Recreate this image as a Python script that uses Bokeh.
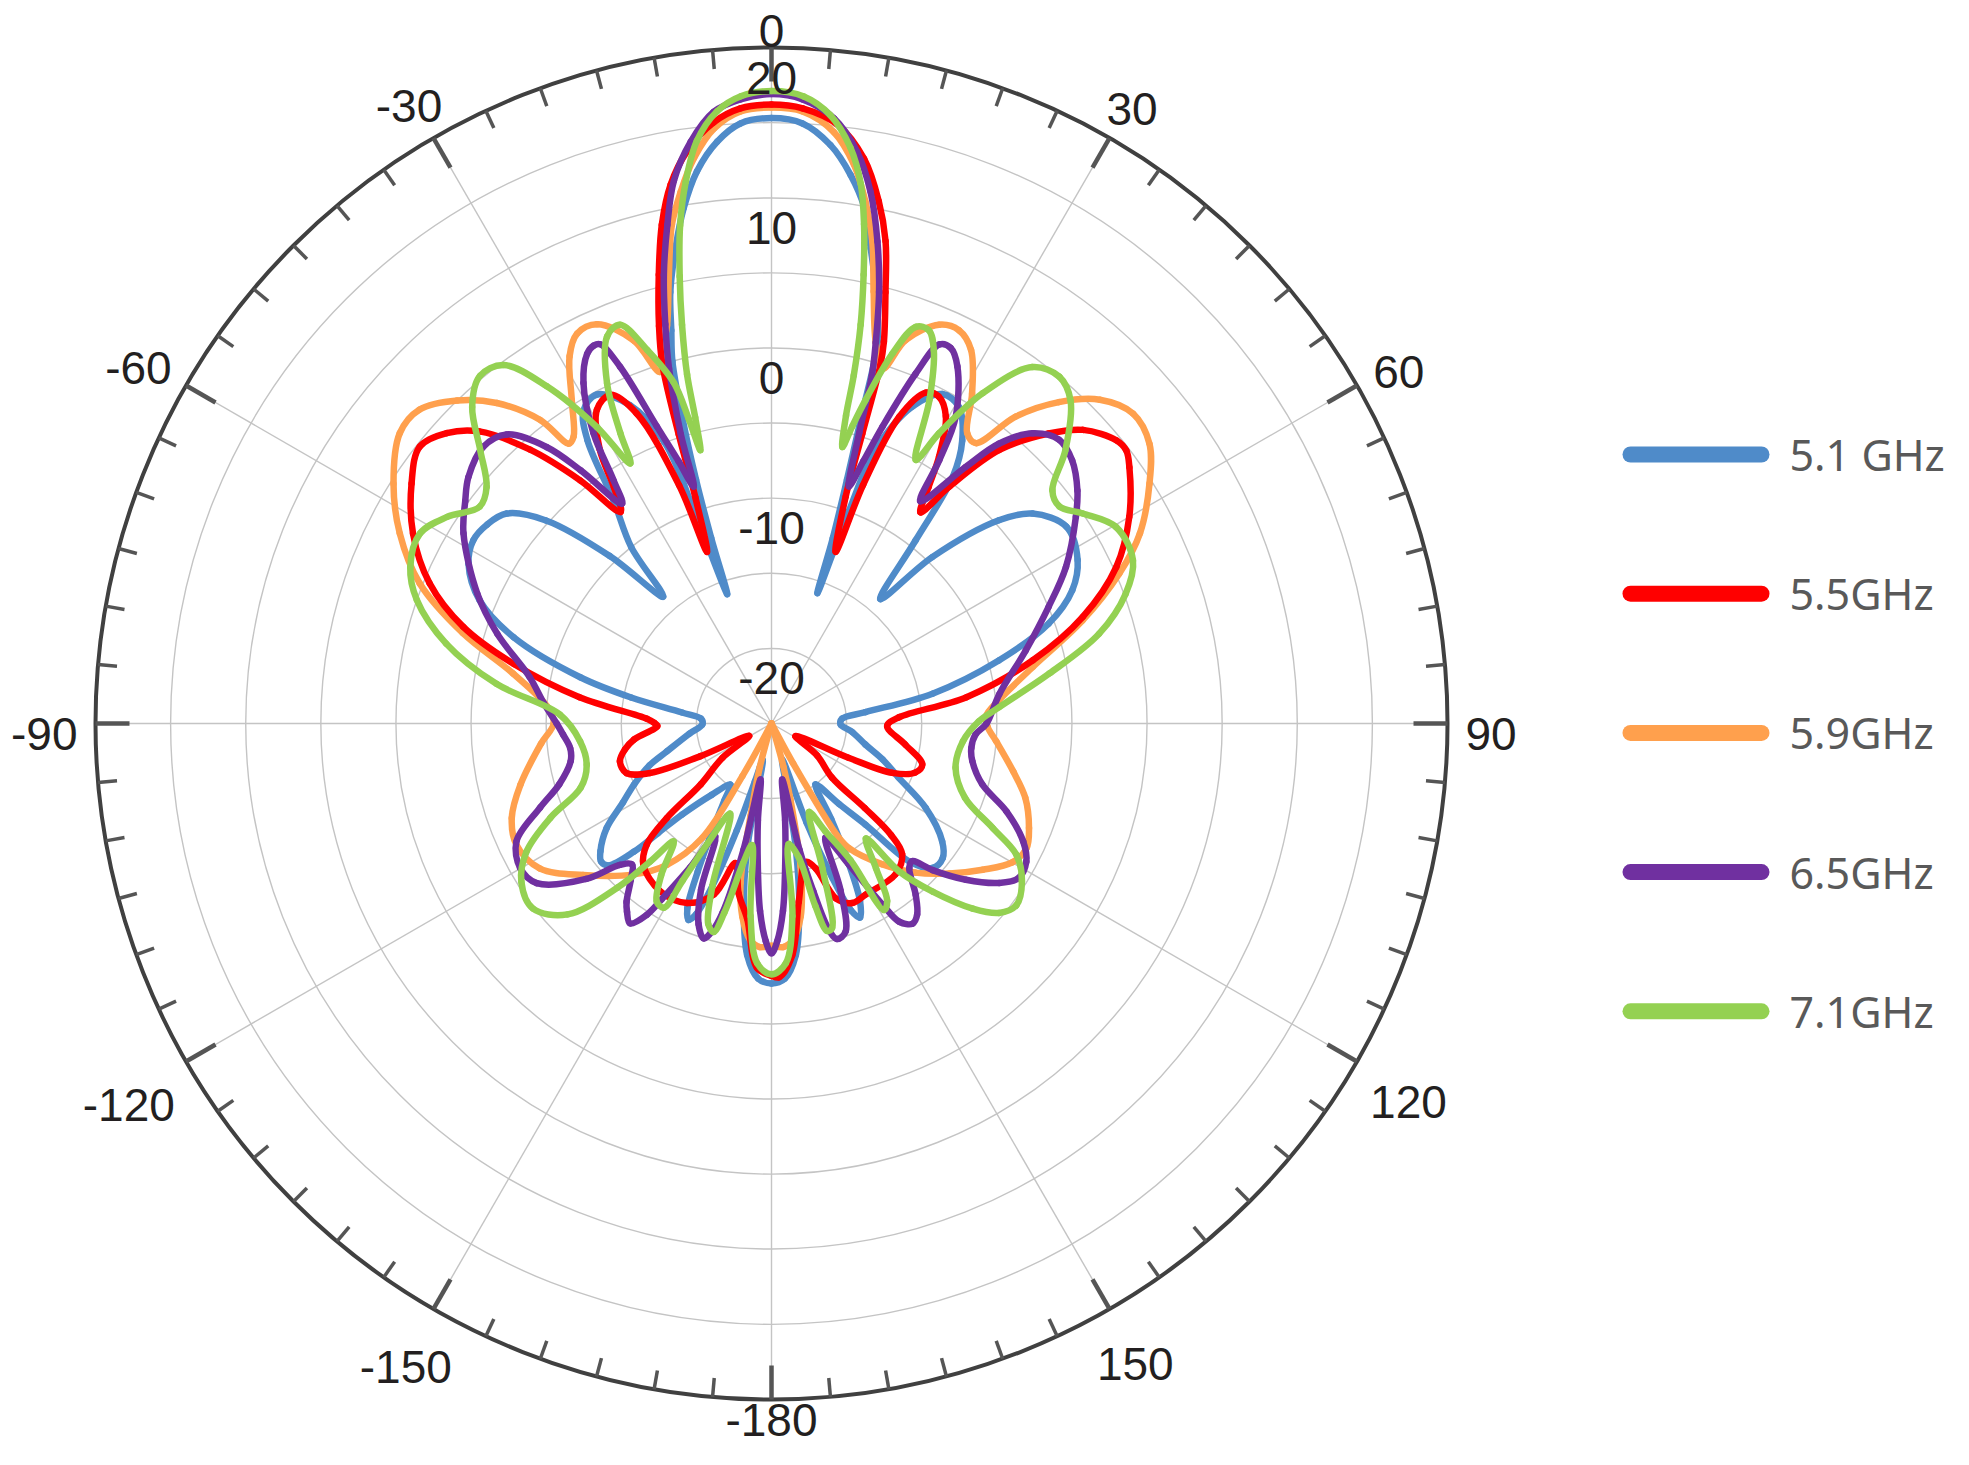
import numpy as np
from bokeh.plotting import figure
from bokeh.models import Range1d, ColumnDataSource
from bokeh.embed import file_html
from bokeh.resources import INLINE
from bokeh.core.properties import value

# ---------------- data (angle in degrees, gain in dB) ----------------
series_labels = ["5.1 GHz", "5.5GHz", "5.9GHz", "6.5GHz", "7.1GHz"]

ang_51 = [-180, -177, -174, -171.5, -169, -166.5, -164, -162, -160, -158.5,
          -157.1, -155.5, -153.5, -151, -148.5, -146.1, -140, -135.5, -134, -133,
          -131, -129, -126.7, -122.4, -118, -113.9, -109, -104.9, -97, -90.8,
          -86.2, -83, -79.5, -76.4, -71.5, -67.1, -62.2, -58.4, -55, -51.6,
          -48, -44, -40.5, -38.5, -35.3, -33, -31, -28, -24, -20.8,
          -20.0, -18.9, -18.0, -17.2, -16.3, -15.3, -14.3, -13.2, -11.4, -9.67,
          -7.68, -5.34, -2.96, 0, 2.96, 5.83, 8.2, 10.2, 11.8, 13.6,
          15.5, 16.3, 17.2, 18.3, 19.4, 20.0, 20.8, 24, 27.4, 30.6,
          34, 36.3, 38.2, 41.2, 44, 48.2, 51.2, 56.3, 61.9, 66.1,
          70.2, 74.5, 79.5, 83.1, 86.2, 90.8, 96, 102.6, 108, 113.1,
          118.7, 124.6, 128.2, 131.9, 135, 137.1, 140, 144.2, 148, 151,
          153.5, 155.5, 157, 158.5, 160.5, 163.5, 166.5, 169, 171.5, 174,
          177, 180]
db_51 = [-7.7, -8.0, -9.5, -12.5, -16.5, -22.5, -21, -17.5, -13.5, -11.4,
         -10.8, -11.5, -14, -17, -19, -20.1, -18.8, -16.5, -14.5, -12.5,
         -10.6, -10.4, -10.8, -12, -13.8, -15, -16.4, -17.8, -19.5, -20.4,
         -20.3, -19, -15.5, -11.9, -6.9, -3.9, -2.2, -1.7, -1.9, -2.5,
         -4.8, -9.5, -13.9, -10, -6.8, -2.5, -0.7, -0.2, -1.8, -5,
         -10, -15.9, -12, -8, -4, 0.0, 2.0, 4.5, 7.3, 9.8,
         12.1, 13.9, 15.0, 15.3, 15.0, 13.7, 11.9, 9.9, 7.3, 4.6,
         1.4, -3.5, -8, -12, -15.8, -10, -5.5, -1.9, -0.3, -0.5,
         -2.3, -4.6, -9.5, -14, -9.6, -4.7, -2.7, -1.4, -1.9, -3.1,
         -5.4, -9.3, -14.1, -18.7, -20.3, -20.4, -19.6, -18.6, -17.2, -15.8,
         -13.3, -11.2, -10.5, -10.6, -12, -15.8, -18, -20, -17.5, -14.5,
         -11.8, -10.8, -11.5, -14, -18, -22.5, -21, -16.5, -12.5, -9.5,
         -8.0, -7.7]

ang_55 = [-180, -176.6, -172.9, -169, -165.5, -161.4, -154.8, -146.5, -137.8, -134.2,
          -132.1, -130.7, -125, -119.2, -114.7, -112.2, -108.9, -104, -100, -96.6,
          -91.3, -89.7, -87.8, -82.2, -77, -72.6, -67.7, -62.1, -56.3, -51.8,
          -48.2, -45, -41.4, -38.2, -35.5, -33.7, -32.1, -29.1, -26.1, -23.5,
          -21.2, -20.6, -18.6, -17.8, -16.9, -15.8, -14.1, -12.4, -10.6, -8.4,
          -5.5, -2.9, 0, 2.9, 6.3, 9.3, 11.6, 13.3, 14.8, 16.4,
          16.9, 17.4, 18.1, 20.5, 21.0, 22.6, 25, 27.1, 29.6, 32.1,
          33.6, 35.2, 36.9, 39.8, 43.7, 46.7, 50.6, 52.4, 54.4, 60,
          65.6, 71.1, 76.4, 82.3, 87.2, 91.3, 98.9, 105.2, 108.9, 112.2,
          114, 117.9, 125, 131.8, 132.2, 133, 135, 140.6, 151.2, 155.8,
          159.8, 163, 166.1, 171.3, 174.9, 178.3, 180]
db_55 = [-8.2, -8.7, -11.9, -13.5, -15.4, -13.0, -11.8, -11.6, -12.3, -13.4,
         -15.6, -18.8, -21, -23.3, -19.8, -16.3, -14.8, -14.6, -15.1, -15.8,
         -17.4, -17.2, -16.7, -12.1, -7.4, -3.5, -0.4, 2.0, 3.8, 4.8,
         4.0, 2.5, -0.7, -4.4, -7.7, -6.1, -3.5, -1.1, -0.64, -2.5,
         -8, -12.8, -9.1, -4.8, 0.0, 2.5, 5.8, 9.0, 11.5, 13.5,
         15.2, 16.0, 16.2, 16.0, 15.1, 13.1, 10.5, 8.0, 4.7, 1.5,
         -0.1, -4.8, -9.1, -12.8, -8, -2.9, -0.7, -0.55, -1.5, -4.0,
         -6.1, -7.8, -5.3, -1.3, 1.7, 3.5, 4.7, 4.8, 4.3, 2.5,
         0.2, -3.1, -7.1, -11.9, -16.5, -17.3, -16.0, -14.6, -14.9, -16.3,
         -19.4, -23.2, -21.3, -19.6, -16.6, -14.1, -12.7, -12.0, -12.0, -11.9,
         -12.6, -14.9, -15.5, -13.0, -9.5, -8.1, -8.2]

ang_59 = [-180, -177, -174.4, -171.4, -169, -167.2, -165, -162, -153, -151,
          -148.8, -143.5, -137.6, -128.8, -122, -115.4, -110, -103.7, -95, -90,
          -86, -79.1, -73.7, -68.3, -62.9, -57.6, -52, -48.3, -44.2, -40.6,
          -37.3, -35.9, -34.6, -31.7, -28.8, -26.5, -23.6, -19.8, -17.6, -16.2,
          -14.7, -12.9, -11.3, -9.7, -7.8, -5.5, -2.9, 0, 2.9, 6.0,
          8.4, 10.2, 11.8, 13.3, 15.3, 17.4, 19.3, 22.8, 25.5, 28.1,
          31.3, 34, 36.1, 38.5, 41.8, 45.4, 49.4, 53.5, 57.6, 62.7,
          66.7, 71.7, 77.8, 84.2, 88, 91, 94.5, 101.2, 106.3, 112.1,
          116.1, 120, 124.7, 130.1, 136, 141.9, 148.1, 149.5, 151.5, 153,
          162, 164.5, 166, 168.5, 171.4, 174.4, 177, 180]
db_59 = [-10.2, -10.1, -10.5, -12, -14.2, -18.7, -22, -26, -26, -21,
         -16.1, -13.3, -11.4, -8.9, -6.8, -6.2, -6.6, -7.8, -9.6, -10.5,
         -10.1, -7.5, -3.6, 0.2, 2.8, 4.8, 6.4, 6.4, 5.0, 3.1,
         0.4, -2.0, -1.8, 0.3, 2.9, 4.0, 4.0, 2.1, -0.45, 1.0,
         2.4, 5.6, 8.85, 10.9, 13.0, 14.8, 15.8, 16.0, 15.8, 14.6,
         12.6, 10.3, 7.8, 4.55, 1.3, -0.25, 2.05, 3.8, 4.0, 3.2,
         0.7, -1.7, -1.9, 1.1, 3.7, 5.7, 6.7, 6.3, 4.8, 2.6,
         0.2, -3.2, -7.2, -9.8, -10.7, -10.6, -10.0, -8.6, -7.4, -6.5,
         -6.1, -6.5, -7.9, -9.5, -11.2, -13.1, -15.2, -16.2, -22, -26,
         -26, -22, -19.8, -15.3, -12, -10.5, -10.1, -10.2]

ang_65 = [-180, -178.5, -176.5, -174.5, -172, -168.9, -167.5, -165.5, -164, -162.5,
          -160, -157, -153.5, -150.5, -148, -146.9, -144.7, -142.5, -140.9, -138,
          -135.3, -133, -130, -124.2, -119.9, -114.8, -110, -106, -100.6, -97,
          -93, -90, -85, -79.1, -71.9, -66.2, -58.3, -54, -50.9, -46.2,
          -42.5, -39.1, -37, -34.2, -33, -31.5, -28.9, -26.5, -25.2, -24.3,
          -23, -21.1, -19.5, -18.2, -17.4, -16.1, -14.9, -13.5, -11.8, -10.2,
          -7.9, -5.4, -2.85, 0, 2.85, 5.9, 8.5, 10.55, 12.4, 14.0,
          15.3, 16.1, 16.8, 18.1, 19.3, 20.5, 22.4, 23.9, 25.5, 27.5,
          31, 32.5, 33.8, 37.1, 39.1, 42, 45.4, 48.8, 52.7, 55.8,
          62, 67.2, 74, 82.6, 90.1, 93.1, 97, 100.6, 106.1, 110.5,
          115.1, 118.5, 122, 125, 128.8, 132.3, 134.4, 136.4, 139.9, 142.7,
          144.8, 147.2, 148.5, 151.3, 154.7, 157.5, 160.4, 163.1, 164.5, 166,
          167.5, 169.2, 172, 174.5, 176.5, 178.5, 180]
db_65 = [-9.7, -10.5, -12.5, -15.5, -18.5, -21.2, -16.4, -12, -10.6, -10.0,
         -10.8, -13, -16.6, -14, -11.2, -9.8, -8.7, -9.2, -9.7, -11.0,
         -11.8, -11.2, -8.9, -6.1, -5.7, -6.3, -8.6, -10.3, -11.4, -11.5,
         -11.1, -10.7, -9.8, -8.6, -5.8, -3.6, -0.9, 0.2, 1.0, 1.6,
         1.1, -1.3, -3.9, -7.3, -5.7, -2.3, 0.9, 2.5, 2.8, 2.7,
         0.8, -3.8, -6.5, -8.4, -4.8, -0.4, 2.5, 5.7, 8.9, 11.7,
         14.1, 15.9, 16.6, 16.9, 16.6, 15.5, 13.5, 11.0, 7.85, 4.6,
         1.3, -0.9, -4.8, -8.4, -6.5, -3.9, 0.2, 2.6, 2.7, 1.8,
         -1.2, -4.2, -7.2, -3.6, -1.0, 1.0, 1.9, 1.6, 0.6, -0.5,
         -2.8, -5.0, -7.4, -9.7, -10.7, -11.4, -11.6, -11.4, -10.4, -8.3,
         -6.5, -5.7, -5.6, -6.5, -8.4, -10.5, -11.9, -11.7, -10.1, -9.0,
         -8.7, -9.3, -10.9, -14.3, -16.6, -13, -10.3, -10.0, -10.8, -13.5,
         -16.4, -21.2, -18.5, -15.5, -12.5, -10.5, -9.7]

ang_71 = [-180, -176.6, -173.8, -170.9, -168.5, -166, -164.5, -162.5, -160, -155.3,
          -152, -150.5, -149.7, -147.2, -144, -140.3, -138.7, -136.8, -133.1, -127.8,
          -122.3, -117.6, -113.1, -108.6, -102.5, -95.3, -87.6, -81.8, -76.2, -70.8,
          -66.6, -61.6, -57.5, -53.4, -50.3, -46.8, -43.4, -40, -36.8, -33.7,
          -30.5, -28.5, -27.5, -25.8, -23, -20.8, -18.4, -16, -15.2, -14.6,
          -14.0, -13.6, -12.65, -11.6, -10.4, -9.0, -7.3, -5.1, -2.8, 0,
          2.95, 5.5, 7.8, 9.4, 10.5, 11.6, 12.6, 13.3, 13.6, 14.4,
          15.2, 16.2, 18.1, 20, 21.8, 23.5, 26, 28.7, 30, 32.6,
          36.2, 39.7, 42.8, 47.1, 50.3, 53, 56, 60.3, 65.7, 69.9,
          74.7, 79.8, 85.9, 89.4, 95.3, 103.5, 111, 115.3, 118.2, 122.2,
          126.6, 129.8, 132.6, 136.2, 139.2, 140.6, 144.2, 146.9, 148.9, 150,
          153.5, 157, 160.6, 163.5, 165, 166.5, 168.5, 171.9, 173.8, 176.6,
          180]
db_71 = [-8.3, -9.0, -12.1, -16.8, -15.5, -12, -10.6, -11.0, -13.5, -18.4,
         -16, -13, -10.8, -10.9, -12.5, -14.8, -12.8, -10, -6.4, -4.9,
         -5.3, -6.6, -9.0, -11.6, -12.4, -12.2, -10.9, -6.5, -2.7, 0.0,
         1.2, 1.6, 0.6, -0.8, -0.35, 1.6, 4.0, 5.2, 4.8, 2.0,
         -2.1, -5.3, -3.2, 0.15, 3.0, 3.4, 1.2, -1.4, -4, -6.2,
         -4.0, -1.1, 2.2, 5.4, 8.7, 11.5, 14.1, 15.9, 16.8, 17.1,
         16.8, 15.7, 13.7, 11.4, 8.8, 5.5, 2.2, -1.2, -3.9, -6.0,
         -4.5, -2.6, 0.9, 3.1, 3.2, 2.1, -1.0, -5.0, -2.7, 1.1,
         4.4, 5.0, 4.3, 1.7, -0.7, -1.0, 0.0, 1.4, 1.4, 0.1,
         -2.4, -6.2, -9.8, -11.2, -12.2, -12.4, -11.2, -8.7, -6.5, -5.3,
         -4.7, -5.3, -6.8, -9.5, -12.0, -15.1, -13.1, -10.9, -10.5, -14.5,
         -17.0, -18.6, -14.8, -10.8, -10.7, -12.5, -15.9, -16.9, -12.1, -9.0,
         -8.3]

radial_ticks = [-20, -10, 0, 10, 20]
angle_ticks = [0, 30, 60, 90, 120, 150, 180, -150, -120, -90, -60, -30]
angle_tick_labels = ["0", "30", "60", "90", "120", "150", "-180", "-150", "-120", "-90", "-60", "-30"]

# ---------------- styling / geometry ----------------
colors = {"5.1 GHz": "#4F8BC9", "5.5GHz": "#FF0000", "5.9GHz": "#FFA04D",
          "6.5GHz": "#7030A0", "7.1GHz": "#94D152"}
R_MIN, R_MAX = -25.0, 20.0
R_OUT = 676.0
K = R_OUT / (R_MAX - R_MIN)

W, H = 1953, 1449
CX, CY = 771, 723   # polar centre in canvas pixels (from left / from top)


def to_xy(ang, db):
    a = np.radians(np.asarray(ang, dtype=float))
    r = np.clip((np.asarray(db, dtype=float) - R_MIN) * K, 0, None)
    return r * np.sin(a), r * np.cos(a)


def spline_segments(x, y, alpha=0.5):
    """Centripetal Catmull-Rom through the (closed) polyline, as cubic Bezier pieces."""
    P = np.column_stack([x, y])[:-1]          # last point repeats the first one
    n = len(P)
    keys = ("x0", "y0", "x1", "y1", "cx0", "cy0", "cx1", "cy1")
    out = {k: [] for k in keys}
    for i in range(n):
        p0, p1, p2, p3 = P[(i - 1) % n], P[i], P[(i + 1) % n], P[(i + 2) % n]
        l01 = np.hypot(*(p1 - p0)) ** alpha
        l12 = np.hypot(*(p2 - p1)) ** alpha
        l23 = np.hypot(*(p3 - p2)) ** alpha
        b1, b2 = p1.copy(), p2.copy()
        if l01 > 1e-6 and l12 > 1e-6:
            a = 2 * l01 ** 2 + 3 * l01 * l12 + l12 ** 2
            b1 = (p1 * a - p0 * l12 ** 2 + p2 * l01 ** 2) / (3 * l01 * (l01 + l12))
        if l23 > 1e-6 and l12 > 1e-6:
            b = 2 * l23 ** 2 + 3 * l23 * l12 + l12 ** 2
            b2 = (p2 * b + p1 * l23 ** 2 - p3 * l12 ** 2) / (3 * l23 * (l23 + l12))
        for k, v in zip(keys, (p1[0], p1[1], p2[0], p2[1], b1[0], b1[1], b2[0], b2[1])):
            out[k].append(float(v))
    return out


p = figure(width=W, height=H, x_range=Range1d(-CX, W - CX), y_range=Range1d(-(H - CY), CY),
           x_axis_type=None, y_axis_type=None, toolbar_location=None,
           output_backend="svg", min_border=0, outline_line_color=None)
p.background_fill_color = "white"
p.border_fill_color = "white"

# grid rings every 5 dB
ring_vals = np.arange(R_MIN + 5, R_MAX, 5.0)
p.circle(x=[0] * len(ring_vals), y=[0] * len(ring_vals), radius=list((ring_vals - R_MIN) * K),
         fill_color=None, line_color="#c4c4c4", line_width=1.4)

# spokes every 30 deg
sp = np.radians(np.arange(0, 360, 30))
p.segment(x0=[0] * len(sp), y0=[0] * len(sp), x1=list(R_OUT * np.sin(sp)), y1=list(R_OUT * np.cos(sp)),
          line_color="#c4c4c4", line_width=1.4)

# curves (drawn as smooth lines through the read points)
series = [("5.1 GHz", ang_51, db_51), ("5.9GHz", ang_59, db_59), ("5.5GHz", ang_55, db_55),
          ("6.5GHz", ang_65, db_65), ("7.1GHz", ang_71, db_71)]
for name, a, d in series:
    assert len(a) == len(d), name
    x, y = to_xy(a, d)
    src = ColumnDataSource(spline_segments(x, y))
    p.bezier(x0="x0", y0="y0", x1="x1", y1="y1", cx0="cx0", cy0="cy0", cx1="cx1", cy1="cy1",
             source=src, line_color=colors[name], line_width=6.5, line_cap="round")

# outer circle and ticks
p.circle(x=[0], y=[0], radius=[R_OUT], fill_color=None, line_color="#404040", line_width=4)
minor = np.array([t for t in range(0, 360, 5) if t % 30 != 0], dtype=float)
major = np.arange(0, 360, 30, dtype=float)
mi = np.radians(minor)
ma = np.radians(major)
p.segment(x0=list(R_OUT * np.sin(mi)), y0=list(R_OUT * np.cos(mi)),
          x1=list((R_OUT - 19) * np.sin(mi)), y1=list((R_OUT - 19) * np.cos(mi)),
          line_color="#555555", line_width=3.5)
p.segment(x0=list(R_OUT * np.sin(ma)), y0=list(R_OUT * np.cos(ma)),
          x1=list((R_OUT - 34) * np.sin(ma)), y1=list((R_OUT - 34) * np.cos(ma)),
          line_color="#555555", line_width=4.5)

FS = 46
FONT = "Liberation Sans"
# radial labels
p.text(x=[0] * len(radial_ticks), y=[(v - R_MIN) * K - 30 for v in radial_ticks],
       text=[str(v) for v in radial_ticks], text_align="center", text_baseline="middle",
       text_font=value(FONT), text_font_size=f"{FS}px", text_color="#231f20")

# angular labels (kept fully inside the canvas)
lx, ly = [], []
y_floor = -(H - CY) + 30
y_ceil = CY - 30
for ang, lab in zip(angle_ticks, angle_tick_labels):
    a = np.radians(ang)
    w = sum(0.333 * FS if c == "-" else 0.556 * FS for c in lab)
    h = 0.72 * FS
    r = R_OUT + 18 + 0.5 * (abs(np.sin(a)) * w + abs(np.cos(a)) * h)
    lx.append(r * np.sin(a))
    ly.append(min(max(r * np.cos(a) - 10.5, y_floor), y_ceil))
p.text(x=lx, y=ly, text=angle_tick_labels, text_align="center", text_baseline="middle",
       text_font=value(FONT), text_font_size=f"{FS}px", text_color="#231f20")

# legend
leg_x0, leg_x1, leg_tx = 859, 990, 1018
leg_y = [269 - i * 139.2 for i in range(len(series_labels))]
for name, yy in zip(series_labels, leg_y):
    p.line([leg_x0, leg_x1], [yy, yy], line_color=colors[name], line_width=16, line_cap="round")
p.text(x=[leg_tx] * len(series_labels), y=leg_y, text=series_labels, text_align="left",
       text_baseline="middle", text_font=value("Noto Sans"), text_font_size="43px",
       text_color="#595959")

open("out.html", "w").write(file_html(p, INLINE))
